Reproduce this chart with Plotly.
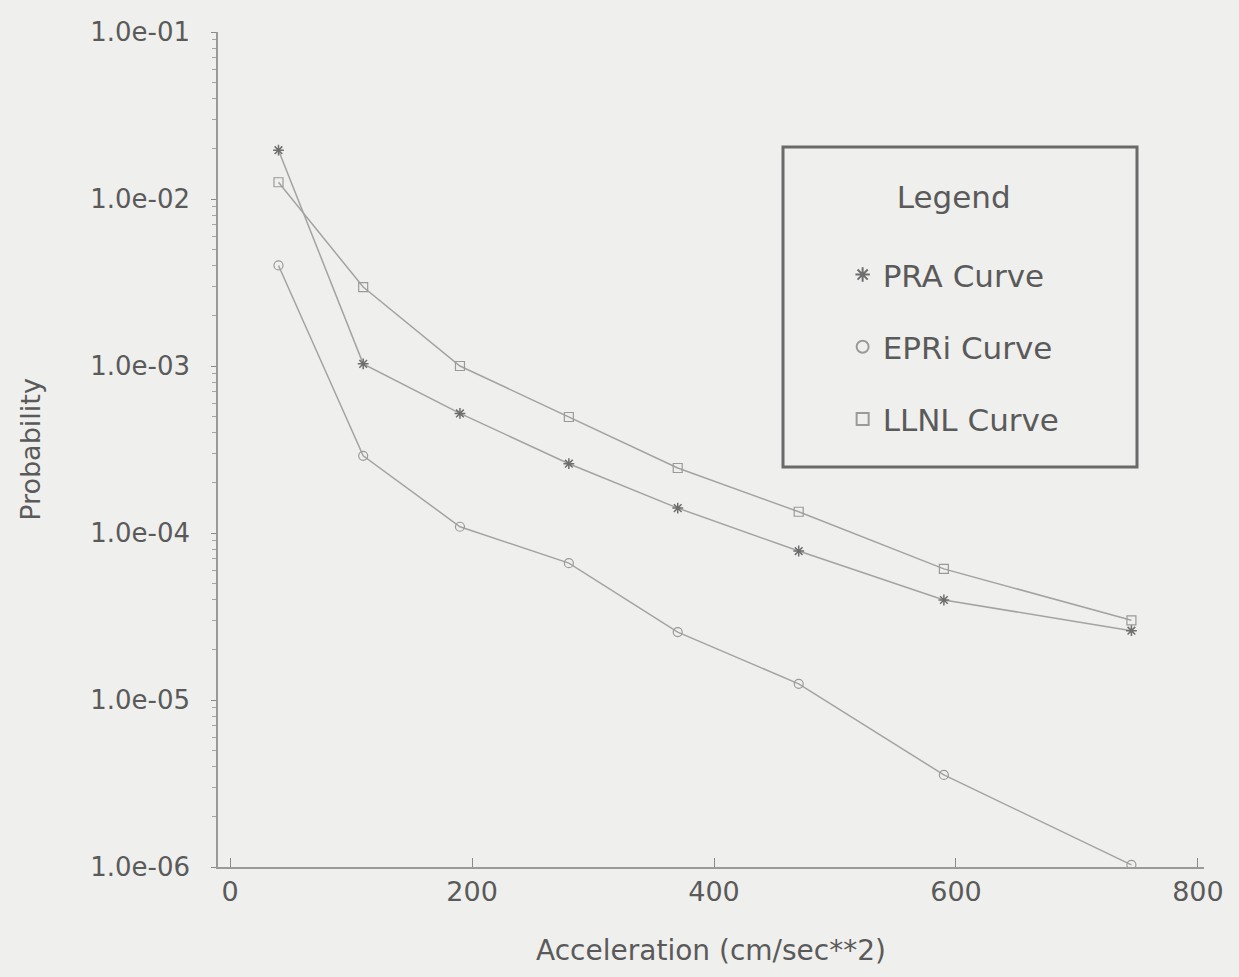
import plotly.graph_objects as go

# Data
accel = [40, 110, 190, 280, 370, 470, 590, 745]
pra = [1.96e-2, 1.03e-3, 5.2e-4, 2.6e-4, 1.41e-4, 7.8e-5, 3.97e-5, 2.6e-5]
epri = [4.0e-3, 2.9e-4, 1.09e-4, 6.6e-5, 2.55e-5, 1.25e-5, 3.56e-6, 1.03e-6]
llnl = [1.26e-2, 2.97e-3, 1.0e-3, 4.95e-4, 2.45e-4, 1.34e-4, 6.1e-5, 3.0e-5]

series_names = ["PRA Curve", "EPRi Curve", "LLNL Curve"]

y_tickvals = [1e-1, 1e-2, 1e-3, 1e-4, 1e-5, 1e-6]
y_ticktext = ["1.0e-01", "1.0e-02", "1.0e-03", "1.0e-04", "1.0e-05", "1.0e-06"]
x_tickvals = [0, 200, 400, 600, 800]

minor_vals = [m * 10.0 ** e for e in range(-6, -1) for m in range(2, 10)]

FONT = "DejaVu Sans"
TXT = "#5a5a5a"
BG = "#efefed"
LINE = "#a3a3a3"

styles = [
    dict(symbol="asterisk-open", color="#6e6e6e", w=1.5),
    dict(symbol="circle-open", color="#9a9a9a", w=1.2),
    dict(symbol="square-open", color="#9a9a9a", w=1.2),
]

fig = go.Figure()
for name, vals, st, grp in zip(series_names, [pra, epri, llnl], styles, ["a", "b", "c"]):
    # connecting line (not in legend)
    fig.add_trace(go.Scatter(
        x=accel, y=vals, mode="lines", showlegend=False, legendgroup=grp,
        line=dict(color=LINE, width=1.5), hoverinfo="skip",
    ))
    # markers (shown in legend)
    fig.add_trace(go.Scatter(
        x=accel, y=vals, name=name, mode="markers", legendgroup=grp,
        marker=dict(symbol=st["symbol"], size=9, color=st["color"],
                    line=dict(width=st["w"], color=st["color"])),
    ))

fig.update_layout(
    width=1239, height=977,
    paper_bgcolor=BG, plot_bgcolor=BG,
    margin=dict(l=218, r=35, t=32, b=110),
    font=dict(family=FONT, color=TXT),
    showlegend=True,
    legend=dict(
        x=0.6335, y=0.838, xanchor="left", yanchor="top",
        bgcolor="rgba(0,0,0,0)", borderwidth=0,
        font=dict(size=31, color=TXT, family=FONT),
        title=dict(text="Legend<br> ", side="top center", font=dict(size=31, color=TXT)),
        tracegroupgap=29, itemsizing="constant",
    ),
    xaxis=dict(
        range=[-10, 805], showgrid=False, zeroline=False,
        showline=True, linecolor="#9a9a9a", linewidth=1.5,
        tickmode="array", tickvals=x_tickvals, ticks="inside", ticklen=9,
        tickcolor="#8a8a8a", tickfont=dict(size=27, color=TXT),
        title=dict(text="Acceleration (cm/sec**2)", font=dict(size=28, color=TXT), standoff=34),
    ),
    yaxis=dict(
        type="log", range=[-6, -1], showgrid=False, zeroline=False,
        showline=True, linecolor="#9a9a9a", linewidth=1.5,
        tickmode="array", tickvals=y_tickvals, ticktext=y_ticktext,
        ticks="outside", ticklen=5, tickcolor="#8a8a8a",
        tickfont=dict(size=26, color=TXT), ticklabelstandoff=16,
        minor=dict(tickmode="array", tickvals=minor_vals, ticks="outside", ticklen=4, tickcolor="#a5a5a5"),
        title=dict(text="Probability", font=dict(size=27, color=TXT), standoff=42),
    ),
    shapes=[dict(
        type="rect", xref="paper", yref="paper",
        x0=(783 - 218) / 986, x1=(1137 - 218) / 986,
        y0=1 - (467 - 32) / 835, y1=1 - (147 - 32) / 835,
        line=dict(color="#6a6a6a", width=3), fillcolor="rgba(0,0,0,0)",
    )],
)

fig.write_html(
    "out.html",
    config={"displayModeBar": False},
    post_script="document.body.style.margin='0';document.body.style.background='#efefed';",
)
